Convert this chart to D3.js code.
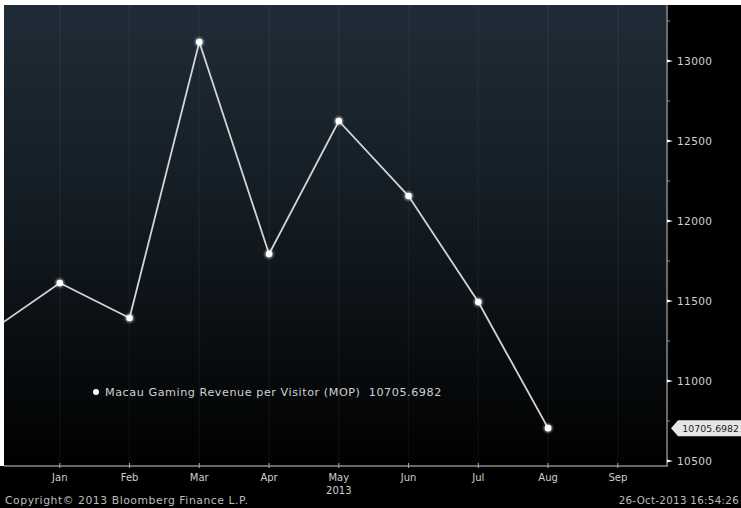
<!DOCTYPE html>
<html><head><meta charset="utf-8">
<script src="https://cdn.jsdelivr.net/npm/d3@7"></script>
<style>html,body{margin:0;padding:0;background:#000;overflow:hidden}svg{display:block}</style>
</head><body>
<svg id="c" width="741" height="508"></svg>
<script>
const months = ["Dec","Jan","Feb","Mar","Apr","May","Jun","Jul","Aug","Sep"];
const tickMonths = ["Jan","Feb","Mar","Apr","May","Jun","Jul","Aug","Sep"];
const values = [11310, 11613, 11394, 13119, 11794, 12625, 12156, 11494, 10705.6982];
const yTicks = [10500, 11000, 11500, 12000, 12500, 13000];
const yMinor = [10750, 11250, 11750, 12250, 12750, 13250];
const seriesName = "Macau Gaming Revenue per Visitor (MOP)";
const lastValue = "10705.6982";
const yearLabel = "2013";
const copyright = "Copyright\u00a9 2013 Bloomberg Finance L.P.";
const stamp = "26-Oct-2013 16:54:26";

const svg = d3.select("#c");
const L = 4, T = 5, R = 667, B = 466;
const font = "DejaVu Sans, sans-serif";

const x = d3.scaleLinear().domain([0.2, 9.705]).range([L, R]);
const y = d3.scaleLinear().domain([10469, 13350]).range([B, T]);

svg.append("rect").attr("width",741).attr("height",508).attr("fill","#000");
svg.append("rect").attr("x",0).attr("y",0).attr("width",741).attr("height",T).attr("fill","#fff");
svg.append("rect").attr("x",0).attr("y",0).attr("width",L).attr("height",B).attr("fill","#fff");

const defs = svg.append("defs");
const g1 = defs.append("linearGradient").attr("id","bg").attr("x1",0).attr("y1",0).attr("x2",0).attr("y2",1);
g1.append("stop").attr("offset","0%").attr("stop-color","#1f2c37");
g1.append("stop").attr("offset","45%").attr("stop-color","#131c23");
g1.append("stop").attr("offset","100%").attr("stop-color","#000");
defs.append("clipPath").attr("id","clip").append("rect").attr("x",L).attr("y",T).attr("width",R-L).attr("height",B-T);
const glow = defs.append("filter").attr("id","glow").attr("x","-100%").attr("y","-100%").attr("width","300%").attr("height","300%");
glow.append("feGaussianBlur").attr("stdDeviation",1.2);

svg.append("rect").attr("x",L).attr("y",T).attr("width",R-L).attr("height",B-T).attr("fill","url(#bg)");

svg.append("g").selectAll("line").data(tickMonths).join("line")
  .attr("x1",(d)=>x(months.indexOf(d))).attr("x2",(d)=>x(months.indexOf(d)))
  .attr("y1",T).attr("y2",B).attr("stroke","#ffffff").attr("stroke-opacity",0.035).attr("stroke-width",2);

const pts = values.map((v,i)=>[x(i), y(v)]);
const plot = svg.append("g").attr("clip-path","url(#clip)");
plot.append("path").datum(pts).attr("d",d3.line()).attr("fill","none")
  .attr("stroke","#d4d4d4").attr("stroke-width",1.8);
plot.selectAll("circle.g").data(pts.slice(1)).join("circle").attr("class","g")
  .attr("cx",d=>d[0]).attr("cy",d=>d[1]).attr("r",4.5).attr("fill","#fff").attr("opacity",0.5).attr("filter","url(#glow)");
plot.selectAll("circle.p").data(pts.slice(1)).join("circle").attr("class","p")
  .attr("cx",d=>d[0]).attr("cy",d=>d[1]).attr("r",3.3).attr("fill","#fff");

svg.append("line").attr("x1",L).attr("x2",R+1).attr("y1",B).attr("y2",B).attr("stroke","#8a8a8a").attr("stroke-width",1.5);
svg.append("line").attr("x1",R).attr("x2",R).attr("y1",T).attr("y2",B).attr("stroke","#8a8a8a").attr("stroke-width",1.5);

const ya = svg.append("g");
ya.selectAll("path.t").data(yTicks).join("path").attr("class","t")
  .attr("d",d=>`M${R},${y(d)-1.5}L${R+6},${y(d)}L${R},${y(d)+1.5}Z`).attr("fill","#fff");
ya.selectAll("line.m").data(yMinor).join("line").attr("class","m")
  .attr("x1",R).attr("x2",R+3).attr("y1",d=>y(d)).attr("y2",d=>y(d)).attr("stroke","#999");
ya.selectAll("text").data(yTicks).join("text")
  .attr("x",677).attr("y",d=>y(d)).attr("dy","0.36em").attr("letter-spacing",0.4)
  .attr("fill","#d0d0d0").attr("font-family",font).attr("font-size",10.5).text(d=>d);

const ly = y(values[values.length-1]);
svg.append("path").attr("d",`M${R+4},${ly}L${R+11},${ly-8}L745,${ly-8}L745,${ly+8}L${R+11},${ly+8}Z`)
  .attr("fill","#e6e6e6");
svg.append("text").attr("x",739).attr("y",ly).attr("dy","0.36em").attr("fill","#222").attr("text-anchor","end")
  .attr("font-family",font).attr("font-size",9.4).text(lastValue);

const xa = svg.append("g");
xa.selectAll("line").data(tickMonths).join("line")
  .attr("x1",d=>x(months.indexOf(d))).attr("x2",d=>x(months.indexOf(d)))
  .attr("y1",B-3).attr("y2",B+2).attr("stroke","#aaa");
xa.selectAll("text").data(tickMonths).join("text")
  .attr("x",d=>x(months.indexOf(d))).attr("y",477).attr("dy","0.36em").attr("text-anchor","middle")
  .attr("fill","#cfcfcf").attr("font-family",font).attr("font-size",10).text(d=>d);
svg.append("text").attr("x",x(months.indexOf("May"))).attr("y",490).attr("dy","0.36em").attr("text-anchor","middle")
  .attr("fill","#cfcfcf").attr("font-family",font).attr("font-size",10).text(yearLabel);

svg.append("circle").attr("cx",96).attr("cy",392).attr("r",3).attr("fill","#fff");
svg.append("text").attr("x",105).attr("y",392).attr("dy","0.36em").attr("fill","#d0d0d0")
  .attr("font-family",font).attr("font-size",11.2).attr("letter-spacing",0.55)
  .attr("xml:space","preserve").text(seriesName + "  " + lastValue);

svg.append("text").attr("x",5).attr("y",500.5).attr("dy","0.36em").attr("fill","#bdbdbd")
  .attr("font-family",font).attr("font-size",10.8).attr("letter-spacing",0.55).text(copyright);
svg.append("text").attr("x",739).attr("y",500.5).attr("dy","0.36em").attr("fill","#bdbdbd").attr("text-anchor","end")
  .attr("font-family",font).attr("font-size",10.3).attr("letter-spacing",0.3).text(stamp);
</script>
</body></html>
